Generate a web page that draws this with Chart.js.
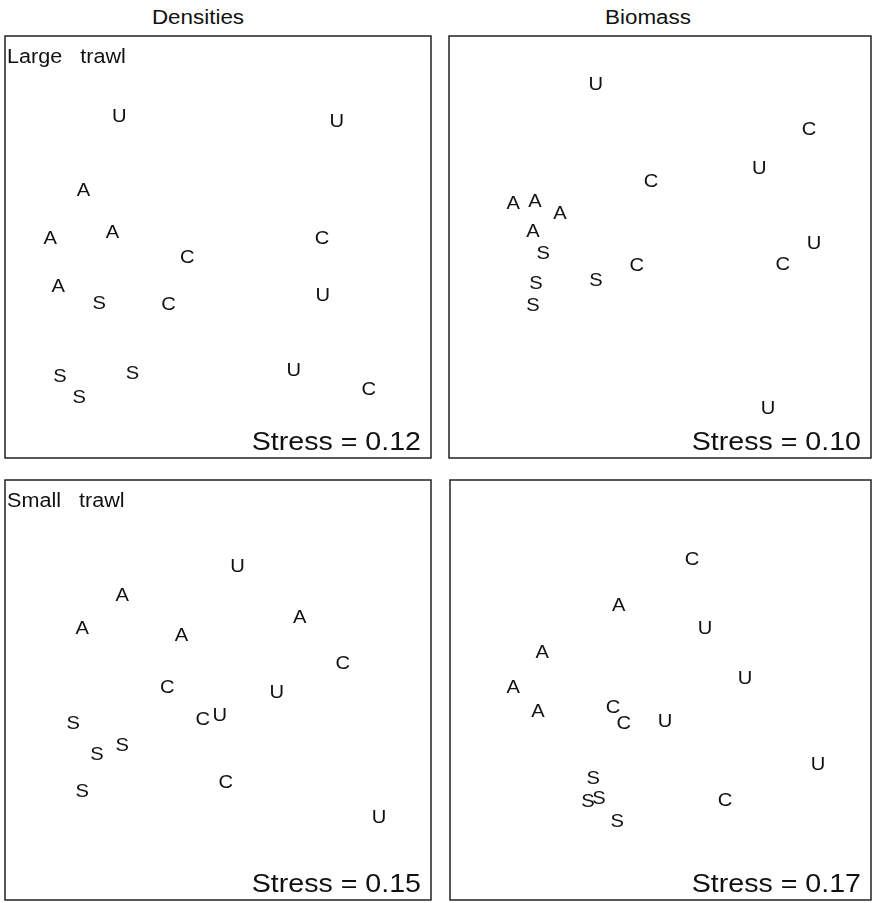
<!DOCTYPE html>
<html>
<head>
<meta charset="utf-8">
<script src="https://cdn.jsdelivr.net/npm/chart.js@4"></script>
<style>
  body { margin: 0; background: #fff; width: 872px; height: 903px; position: relative; overflow: hidden; }
  .panel { position: absolute; }
  .colTitle { position: absolute; top: 6px; font: 20px "Liberation Sans", Arial, sans-serif; color: #111;
              transform-origin: center; white-space: nowrap; }
</style>
</head>
<body>
<div class="colTitle" id="t1">Densities</div>
<div class="colTitle" id="t2">Biomass</div>
<div class="panel" id="p1"><canvas id="c1"></canvas></div>
<div class="panel" id="p2"><canvas id="c2"></canvas></div>
<div class="panel" id="p3"><canvas id="c3"></canvas></div>
<div class="panel" id="p4"><canvas id="c4"></canvas></div>
<script>
// NMDS ordination scores, scaled 0-100 inside each panel
const largeDensLab = ['U','U','A','A','A','C','C','A','S','C','U','S','S','S','U','C'];
const largeDensX = [26.8, 77.9, 18.4, 10.6, 25.2, 42.8, 74.4, 12.5, 22.1, 38.4, 74.6, 12.9, 17.4, 29.9, 67.8, 85.4];
const largeDensY = [80.9, 79.5, 63.2, 51.8, 53.2, 47.3, 51.8, 40.6, 36.5, 36.3, 38.4, 19.1, 14.3, 20.0, 20.5, 16.2];

const largeBioLab = ['U','C','U','C','A','A','A','A','S','U','C','C','S','S','S','U'];
const largeBioX = [34.8, 85.3, 73.5, 47.9, 15.2, 20.4, 26.3, 19.9, 22.3, 86.5, 79.1, 44.5, 34.8, 20.6, 19.9, 75.6];
const largeBioY = [88.3, 77.6, 68.5, 65.4, 60.1, 60.6, 57.8, 53.5, 48.4, 50.8, 45.8, 45.6, 42.0, 41.3, 36.0, 11.7];

const smallDensLab = ['U','A','A','A','A','C','C','U','S','C','U','S','S','S','C','U'];
const smallDensX = [54.6, 27.5, 18.1, 41.4, 69.2, 79.3, 38.1, 63.8, 16.0, 46.4, 50.4, 27.5, 21.6, 18.1, 51.8, 87.8];
const smallDensY = [79.3, 72.4, 64.4, 62.9, 67.2, 56.3, 50.4, 49.2, 42.0, 42.8, 43.9, 36.6, 34.4, 25.7, 27.8, 19.5];

const smallBioLab = ['C','A','U','A','U','A','A','C','C','U','U','S','S','S','S','C'];
const smallBioX = [57.5, 40.1, 60.6, 21.9, 70.1, 15.0, 20.9, 38.7, 41.3, 51.1, 87.4, 34.0, 32.8, 35.4, 39.7, 65.3];
const smallBioY = [81.0, 70.1, 64.4, 58.7, 52.7, 50.4, 44.7, 45.6, 41.8, 42.3, 32.1, 28.7, 23.3, 24.0, 18.5, 23.5];

const stressValues = ['0.12', '0.10', '0.15', '0.17'];
const rowLabels = ['Large   trawl', '', 'Small   trawl', ''];
const colTitles = ['Densities', 'Biomass'];

const FONT = '"Liberation Sans", Arial, sans-serif';
const INK = '#111';

// box of each panel on the page: left, top, right, bottom
const boxes = [
    [5, 36, 431, 458],
    [449, 36, 871, 458],
    [5, 480, 431, 900],
    [450, 480, 871, 900]
];
const titleCentres = [198, 648];

function stretchText(ctx, text, x, y, align, stretch) {
    ctx.save();
    ctx.translate(x, y);
    ctx.scale(stretch, 1);
    ctx.textAlign = align;
    ctx.fillText(text, 0, 0);
    ctx.restore();
}

const nmdsPlugin = {
    id: 'nmds',
    afterDatasetsDraw(chart, args, opts) {
        const ctx = chart.ctx;
        const area = chart.chartArea;
        const meta = chart.getDatasetMeta(0);
        const labels = chart.data.datasets[0].letters;
        ctx.save();
        ctx.strokeStyle = '#222';
        ctx.lineWidth = 1.5;
        ctx.strokeRect(area.left, area.top, area.right - area.left, area.bottom - area.top);

        ctx.fillStyle = INK;
        ctx.font = '18px ' + FONT;
        ctx.textBaseline = 'middle';
        meta.data.forEach((pt, i) => {
            stretchText(ctx, labels[i], pt.x, pt.y, 'center', 1.12);
        });

        ctx.textBaseline = 'alphabetic';
        if (opts.corner) {
            ctx.font = '20px ' + FONT;
            stretchText(ctx, opts.corner, area.left + 2, area.top + 27, 'left', 1.08);
        }
        ctx.font = '26px ' + FONT;
        stretchText(ctx, 'Stress = ' + opts.stress, area.right - 10, area.bottom - 8, 'right', 1.1);
        ctx.restore();
    }
};

function makePanel(idx, letters, xs, ys) {
    const b = boxes[idx];
    const pad = 2;
    const div = document.getElementById('p' + (idx + 1));
    div.style.left = (b[0] - pad) + 'px';
    div.style.top = (b[1] - pad) + 'px';
    div.style.width = (b[2] - b[0] + 2 * pad) + 'px';
    div.style.height = (b[3] - b[1] + 2 * pad) + 'px';
    const canvas = document.getElementById('c' + (idx + 1));
    new Chart(canvas.getContext('2d'), {
        type: 'scatter',
        data: {
            datasets: [{
                data: xs.map((x, i) => ({ x: x, y: ys[i] })),
                letters: letters,
                pointRadius: 0,
                pointHoverRadius: 0
            }]
        },
        options: {
            responsive: true,
            maintainAspectRatio: false,
            animation: false,
            layout: { padding: pad },
            scales: {
                x: { type: 'linear', min: 0, max: 100, display: false },
                y: { type: 'linear', min: 0, max: 100, display: false }
            },
            plugins: {
                legend: { display: false },
                tooltip: { enabled: false },
                nmds: { stress: stressValues[idx], corner: rowLabels[idx] }
            }
        },
        plugins: [nmdsPlugin]
    });
}

// column titles over the panels
[0, 1].forEach(c => {
    const el = document.getElementById('t' + (c + 1));
    el.textContent = colTitles[c];
    el.style.left = titleCentres[c] + 'px';
    el.style.transform = 'translateX(-50%) scaleX(1.12)';
});

makePanel(0, largeDensLab, largeDensX, largeDensY);
makePanel(1, largeBioLab, largeBioX, largeBioY);
makePanel(2, smallDensLab, smallDensX, smallDensY);
makePanel(3, smallBioLab, smallBioX, smallBioY);
</script>
</body>
</html>
